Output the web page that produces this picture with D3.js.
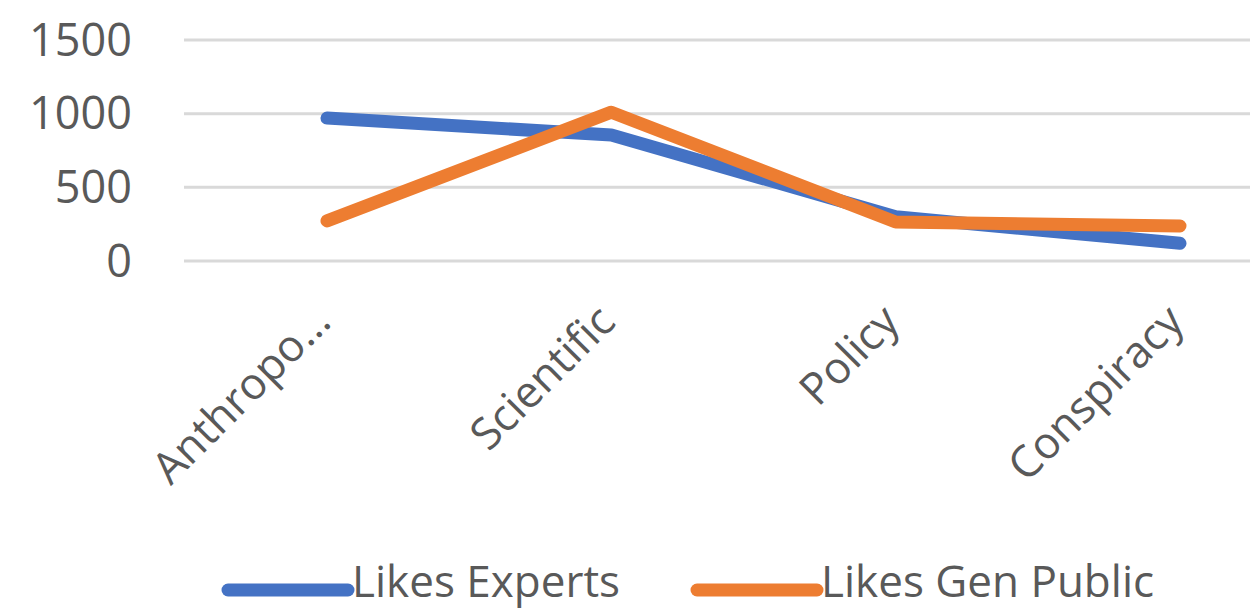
<!DOCTYPE html>
<html>
<head>
<meta charset="utf-8">
<script src="https://cdn.jsdelivr.net/npm/d3@7"></script>
<style>
  body { margin: 0; background: #fff; }
  svg { display: block; font-family: "Open Sans", sans-serif; }
  .grid line { stroke: #d9d9d9; stroke-width: 3; }
  .lbl { fill: #595959; }
</style>
</head>
<body>
<div id="canvas"></div>
<script>
// chart data
var categories = ['Anthropo\u2026', 'Scientific', 'Policy', 'Conspiracy'];
var likesExperts = [970, 855, 300, 120];
var likesPublic = [272, 1010, 265, 238];
var yTicks = [0, 500, 1000, 1500];
var seriesNames = ['Likes Experts', 'Likes Gen Public'];
var seriesColors = ['#4472c4', '#ed7d31'];

var width = 1250, height = 610;

var svg = d3.select('#canvas')
    .append('svg')
    .attr('width', width)
    .attr('height', height);

var x = d3.scalePoint().domain(categories).range([327, 1180]);
var y = d3.scaleLinear().domain([0, 1500]).range([261, 40]);

// gridlines
var grid = svg.append('g').attr('class', 'grid');
yTicks.forEach(function(t){
    grid.append('line')
        .attr('x1', 184)
        .attr('x2', width)
        .attr('y1', y(t))
        .attr('y2', y(t));
});

// y labels
svg.selectAll('.ylab')
    .data(yTicks)
    .enter().append('text')
    .attr('class', 'lbl')
    .attr('x', 132)
    .attr('y', function(d){ return y(d); })
    .attr('dy', '0.35em')
    .attr('text-anchor', 'end')
    .style('font-size', '45px')
    .text(function(d){ return d; });

// category labels, rotated
svg.selectAll('.xlab')
    .data(categories)
    .enter().append('text')
    .attr('class', 'lbl')
    .attr('text-anchor', 'end')
    .style('font-size', '44px')
    .attr('transform', function(d){
        return 'translate(' + (x(d) + 6) + ',' + 324 + ') rotate(-45)';
    })
    .text(function(d){ return d; });

// lines
var line = d3.line()
    .x(function(d, i){ return x(categories[i]); })
    .y(function(d){ return y(d); });

[likesExperts, likesPublic].forEach(function(vals, i){
    svg.append('path')
        .datum(vals)
        .attr('d', line)
        .attr('fill', 'none')
        .attr('stroke', seriesColors[i])
        .attr('stroke-width', 13)
        .attr('stroke-linecap', 'round')
        .attr('stroke-linejoin', 'round');
});

// legend
var legendX = [228, 697];
seriesNames.forEach(function(name, i){
    var g = svg.append('g').attr('transform', 'translate(' + legendX[i] + ',590)');
    g.append('line')
        .attr('x1', 0).attr('x2', 120)
        .attr('stroke', seriesColors[i])
        .attr('stroke-width', 13)
        .attr('stroke-linecap', 'round');
    g.append('text')
        .attr('class', 'lbl')
        .attr('x', 124)
        .attr('y', 7)
        .style('font-size', '44px')
        .text(name);
});
</script>
</body>
</html>
